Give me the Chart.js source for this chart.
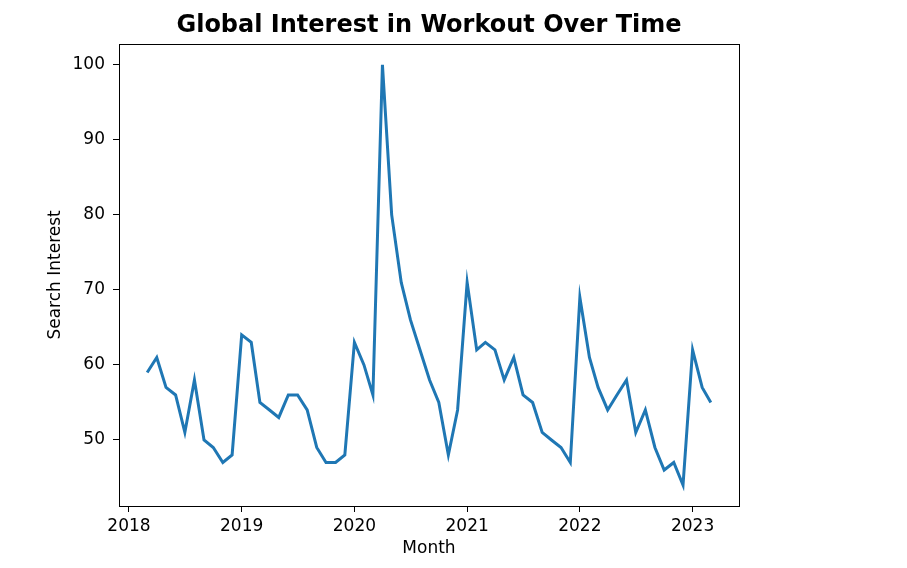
<!DOCTYPE html>
<html>
<head>
<meta charset="utf-8">
<title>Global Interest in Workout Over Time</title>
<script src="https://cdn.jsdelivr.net/npm/chart.js@4.4.1/dist/chart.umd.min.js"></script>
<style>
  html, body { margin: 0; padding: 0; background: #fff; }
  #chartWrap { width: 907px; height: 568px; }
</style>
</head>
<body>
<div id="chartWrap"><canvas id="trendChart" width="907" height="568"></canvas></div>
<script>
(function () {
  'use strict';

  /* ---------------- Data ---------------- */
  var months = [
    '2018-03', '2018-04', '2018-05', '2018-06', '2018-07', '2018-08', '2018-09', '2018-10', '2018-11', '2018-12',
    '2019-01', '2019-02', '2019-03', '2019-04', '2019-05', '2019-06', '2019-07', '2019-08', '2019-09', '2019-10', '2019-11', '2019-12',
    '2020-01', '2020-02', '2020-03', '2020-04', '2020-05', '2020-06', '2020-07', '2020-08', '2020-09', '2020-10', '2020-11', '2020-12',
    '2021-01', '2021-02', '2021-03', '2021-04', '2021-05', '2021-06', '2021-07', '2021-08', '2021-09', '2021-10', '2021-11', '2021-12',
    '2022-01', '2022-02', '2022-03', '2022-04', '2022-05', '2022-06', '2022-07', '2022-08', '2022-09', '2022-10', '2022-11', '2022-12',
    '2023-01', '2023-02', '2023-03'
  ];
  var interest = [
    59, 61, 57, 56, 51, 58, 50, 49, 47, 48,
    64, 63, 55, 54, 53, 56, 56, 54, 49, 47, 47, 48,
    63, 60, 56, 100, 80, 71, 66, 62, 58, 55, 48, 54,
    71, 62, 63, 62, 58, 61, 56, 55, 51, 50, 49, 47,
    69, 61, 57, 54, 56, 58, 51, 54, 49, 46, 47, 44,
    62, 57, 55
  ];
  var yearTicks = [2018, 2019, 2020, 2021, 2022, 2023];
  var interestTicks = [50, 60, 70, 80, 90, 100];

  /* ---------------- Helpers ---------------- */
  // 'YYYY-MM' -> fractional year (day based, like a date axis)
  function toYear(label) {
    var parts = label.split('-');
    var y = +parts[0], m = +parts[1];
    var start = Date.UTC(y, 0, 1), next = Date.UTC(y + 1, 0, 1);
    return y + (Date.UTC(y, m - 1, 1) - start) / (next - start);
  }

  var points = months.map(function (mo, i) { return { x: toYear(mo), y: interest[i] }; });

  // 5% margins on both axes, matplotlib style
  var xs = points.map(function (p) { return p.x; });
  var xLo = Math.min.apply(null, xs), xHi = Math.max.apply(null, xs);
  var yLo = Math.min.apply(null, interest), yHi = Math.max.apply(null, interest);
  var xPad = (xHi - xLo) * 0.05, yPad = (yHi - yLo) * 0.05;

  var fontFamily = "'DejaVu Sans', sans-serif";
  var axisColor = '#000';

  // Full frame around the plot area
  var frame = {
    id: 'frame',
    afterDatasetsDraw: function (chart) {
      var a = chart.chartArea, ctx = chart.ctx;
      ctx.save();
      ctx.strokeStyle = axisColor;
      ctx.lineWidth = 1;
      ctx.strokeRect(Math.round(a.left) + 0.5, Math.round(a.top) + 0.5,
        Math.round(a.right - a.left), Math.round(a.bottom - a.top));
      ctx.restore();
    }
  };

  new Chart(document.getElementById('trendChart').getContext('2d'), {
    type: 'line',
    data: {
      datasets: [{
        label: 'Search Interest',
        data: points,
        borderColor: '#1f77b4',
        borderWidth: 3,
        pointRadius: 0,
        tension: 0,
        fill: false
      }]
    },
    options: {
      responsive: false,
      animation: false,
      devicePixelRatio: 1,
      layout: { padding: { left: 0, right: 168, top: 0, bottom: 0 } },
      plugins: {
        legend: { display: false },
        tooltip: { enabled: false },
        title: {
          display: true,
          fullSize: false,
          text: 'Global Interest in Workout Over Time',
          color: '#000',
          font: { family: fontFamily, size: 24, weight: 'bold' },
          padding: { top: 11, bottom: 4 }
        }
      },
      scales: {
        x: {
          type: 'linear',
          min: xLo - xPad,
          max: xHi + xPad,
          afterFit: function (scale) { scale.height = 62; },
          afterBuildTicks: function (scale) {
            scale.ticks = yearTicks.map(function (v) { return { value: v }; });
          },
          grid: { drawOnChartArea: false, drawTicks: true, tickLength: 6, color: axisColor },
          border: { display: false },
          ticks: {
            color: axisColor,
            padding: 4,
            maxRotation: 0,
            font: { family: fontFamily, size: 17 },
            callback: function (v) { return String(v); }
          },
          title: {
            display: true,
            text: 'Month',
            color: axisColor,
            font: { family: fontFamily, size: 17 },
            padding: { top: 0, bottom: 9 }
          }
        },
        y: {
          min: yLo - yPad,
          max: yHi + yPad,
          afterFit: function (scale) { scale.width = 119; },
          afterBuildTicks: function (scale) {
            scale.ticks = interestTicks.map(function (v) { return { value: v }; });
          },
          grid: { drawOnChartArea: false, drawTicks: true, tickLength: 6, color: axisColor },
          border: { display: false },
          ticks: {
            color: axisColor,
            padding: 8,
            font: { family: fontFamily, size: 17 },
            callback: function (v) { return String(v); }
          },
          title: {
            display: true,
            text: 'Search Interest',
            color: axisColor,
            font: { family: fontFamily, size: 17 },
            padding: { top: 45, bottom: 0 }
          }
        }
      }
    },
    plugins: [frame]
  });
})();
</script>
</body>
</html>
